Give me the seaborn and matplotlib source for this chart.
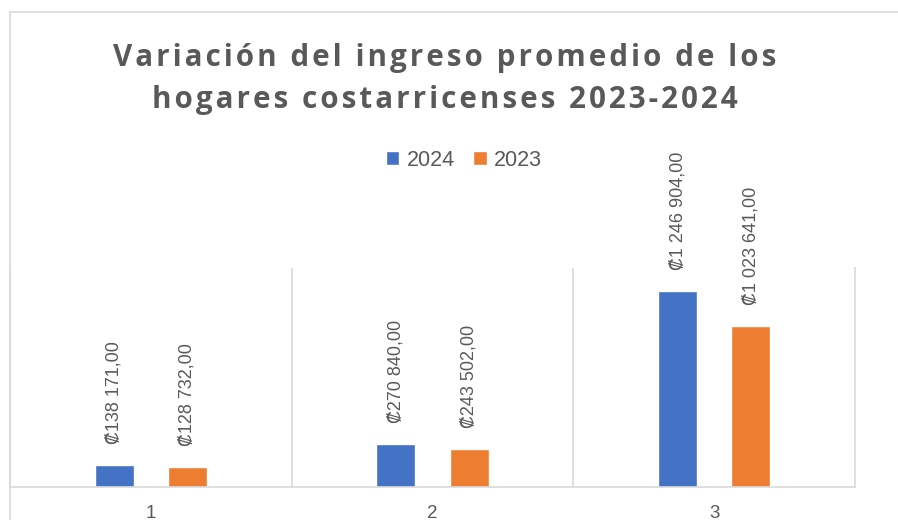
import pandas as pd
import matplotlib.pyplot as plt
import seaborn as sns
from matplotlib.lines import Line2D

# Data
grupos = ["1", "2", "3"]
ingreso_2024 = [138171.00, 270840.00, 1246904.00]
ingreso_2023 = [128732.00, 243502.00, 1023641.00]
anios = ["2024", "2023"]
titulo = ["Variación del ingreso promedio de los", "hogares costarricenses 2023-2024"]

sns.set_theme(style="white")
plt.rcParams['font.family'] = ['Liberation Sans', 'DejaVu Sans']

df = pd.DataFrame({
    'grupo': grupos * 2,
    'ingreso': ingreso_2024 + ingreso_2023,
    'anio': ["2024"] * 3 + ["2023"] * 3,
})

W, H = 898, 520
fig = plt.figure(figsize=(W / 100, H / 100), dpi=100)
ax = fig.add_axes([10 / W, (H - 487) / H, (855 - 10) / W, (487 - 268) / H])

colors = ['#4472C4', '#ED7D31']
gray = '#595959'
line_gray = '#D9D9D9'

sns.barplot(data=df, x='grupo', y='ingreso', hue='anio', hue_order=anios,
            palette=colors, width=0.52, gap=0.47, ax=ax, saturation=1)

# Data labels
def fmt(v):
    return "₡" + f"{v:,.2f}".replace(',', ' ').replace('.', ',')

for cont in ax.containers:
    ax.bar_label(cont, labels=[fmt(b.get_height()) for b in cont],
                 rotation=90, padding=15, fontsize=13, color=gray)

ax.set_xlim(-0.5, 2.5)
ax.set_ylim(0, 1390000)
ax.set_yticks([])
ax.set_xlabel('')
ax.set_ylabel('')
ax.tick_params(axis='x', length=0, pad=13, labelsize=13.5, labelcolor=gray)

for b in [0.5, 1.5]:
    ax.axvline(b, color=line_gray, lw=1.2)
for side in ['left', 'right', 'bottom']:
    ax.spines[side].set_color(line_gray)
    ax.spines[side].set_linewidth(1.2)
ax.spines['top'].set_visible(False)

# Legend
handles, labels = ax.get_legend_handles_labels()
ax.get_legend().remove()
fig.legend(handles, labels, loc='center', bbox_to_anchor=(464 / W, 1 - 160 / H),
           ncol=2, frameon=False, fontsize=15.5, labelcolor=gray,
           handlelength=0.62, handleheight=0.62, handletextpad=0.35, columnspacing=0.85)

# Title with letter spacing (hair spaces between characters)
spaced = "\n".join("\u200a".join(line) for line in titulo)
fig.text(445 / W, 1 - 79 / H, spaced,
         ha='center', va='center', fontsize=21.3, fontweight='bold', color=gray,
         family=['Open Sans', 'DejaVu Sans'], linespacing=1.5)

# Chart border
fig.add_artist(Line2D([10 / W, 1], [1 - 12 / H, 1 - 12 / H], color=line_gray, lw=1.2))
fig.add_artist(Line2D([10 / W, 10 / W], [0, 1 - 12 / H], color=line_gray, lw=1.2))

fig.savefig('out.png', dpi=100)
